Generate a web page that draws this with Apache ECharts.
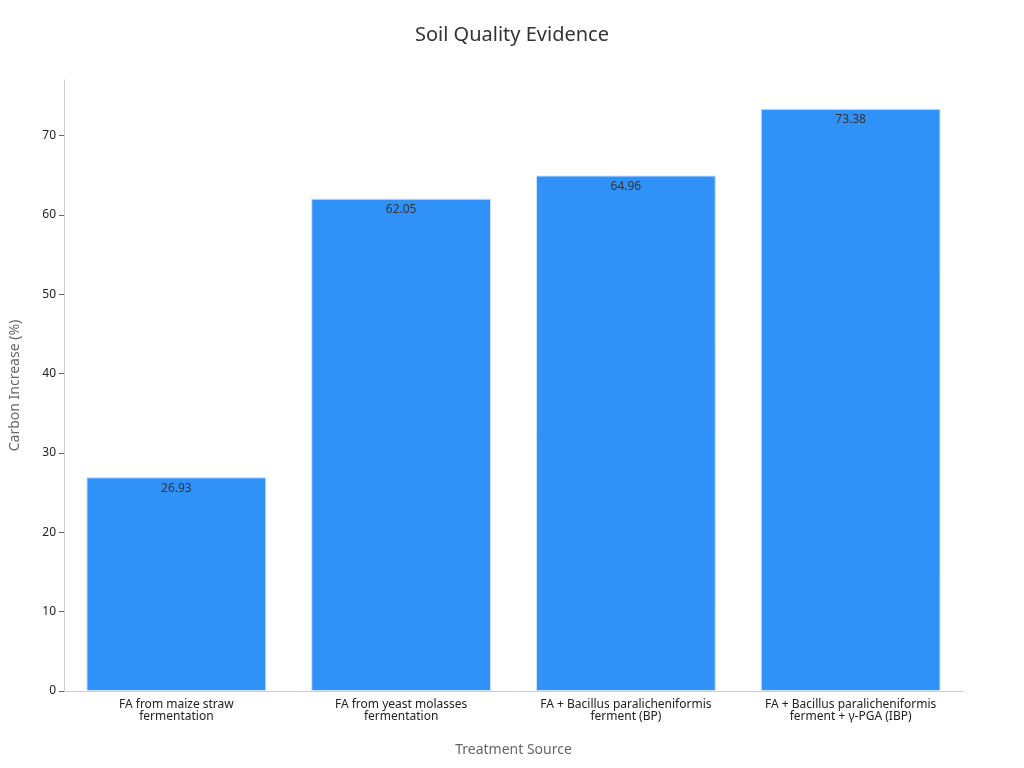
<!DOCTYPE html>
<html>
<head>
<meta charset="utf-8">
<script src="https://cdn.jsdelivr.net/npm/echarts@6/dist/echarts.min.js"></script>
<style>html,body{margin:0;padding:0;background:#fff}#main{width:1024px;height:768px}</style>
</head>
<body>
<div id="main"></div>
<script>
var categories = [
  "FA from maize straw\nfermentation",
  "FA from yeast molasses\nfermentation",
  "FA + Bacillus paralicheniformis\nferment (BP)",
  "FA + Bacillus paralicheniformis\nferment + γ-PGA (IBP)"
];
var carbonIncrease = [26.93, 62.05, 64.96, 73.38];

var chart = echarts.init(document.getElementById("main"));
chart.setOption({
  textStyle: { fontFamily: "Noto Sans" },
  title: {
    text: "Soil Quality Evidence",
    left: "center",
    top: 20,
    textStyle: { fontSize: 20, fontWeight: "normal", color: "#333" }
  },
  grid: { left: 60, right: 61, top: 80, bottom: 77 },
  xAxis: {
    type: "category",
    data: categories,
    name: "Treatment Source",
    nameLocation: "middle",
    nameGap: 52,
    nameTextStyle: { fontSize: 14, color: "#666" },
    axisLine: { lineStyle: { color: "#ccc" } },
    axisTick: { alignWithLabel: true, lineStyle: { color: "#999" } },
    axisLabel: { color: "#222", fontSize: 12, interval: 0 }
  },
  yAxis: {
    type: "value",
    min: 0,
    max: 77,
    interval: 10,
    name: "Carbon Increase (%)",
    nameLocation: "middle",
    nameGap: 42,
    nameTextStyle: { fontSize: 14, color: "#666" },
    axisLine: { show: true, lineStyle: { color: "#ccc" } },
    axisTick: { show: true, lineStyle: { color: "#666" } },
    axisLabel: { color: "#222", fontSize: 12, showMaxLabel: false },
    splitLine: { show: false }
  },
  series: [
    {
      type: "bar",
      data: carbonIncrease,
      barWidth: "80%",
      itemStyle: { color: "#3092f8", borderColor: "#d0e4fb", borderWidth: 1 },
      label: {
        show: true,
        position: "insideTop",
        color: "#333",
        fontSize: 12,
        formatter: function (p) { return p.value.toFixed(2); }
      }
    }
  ]
});
</script>
</body>
</html>
